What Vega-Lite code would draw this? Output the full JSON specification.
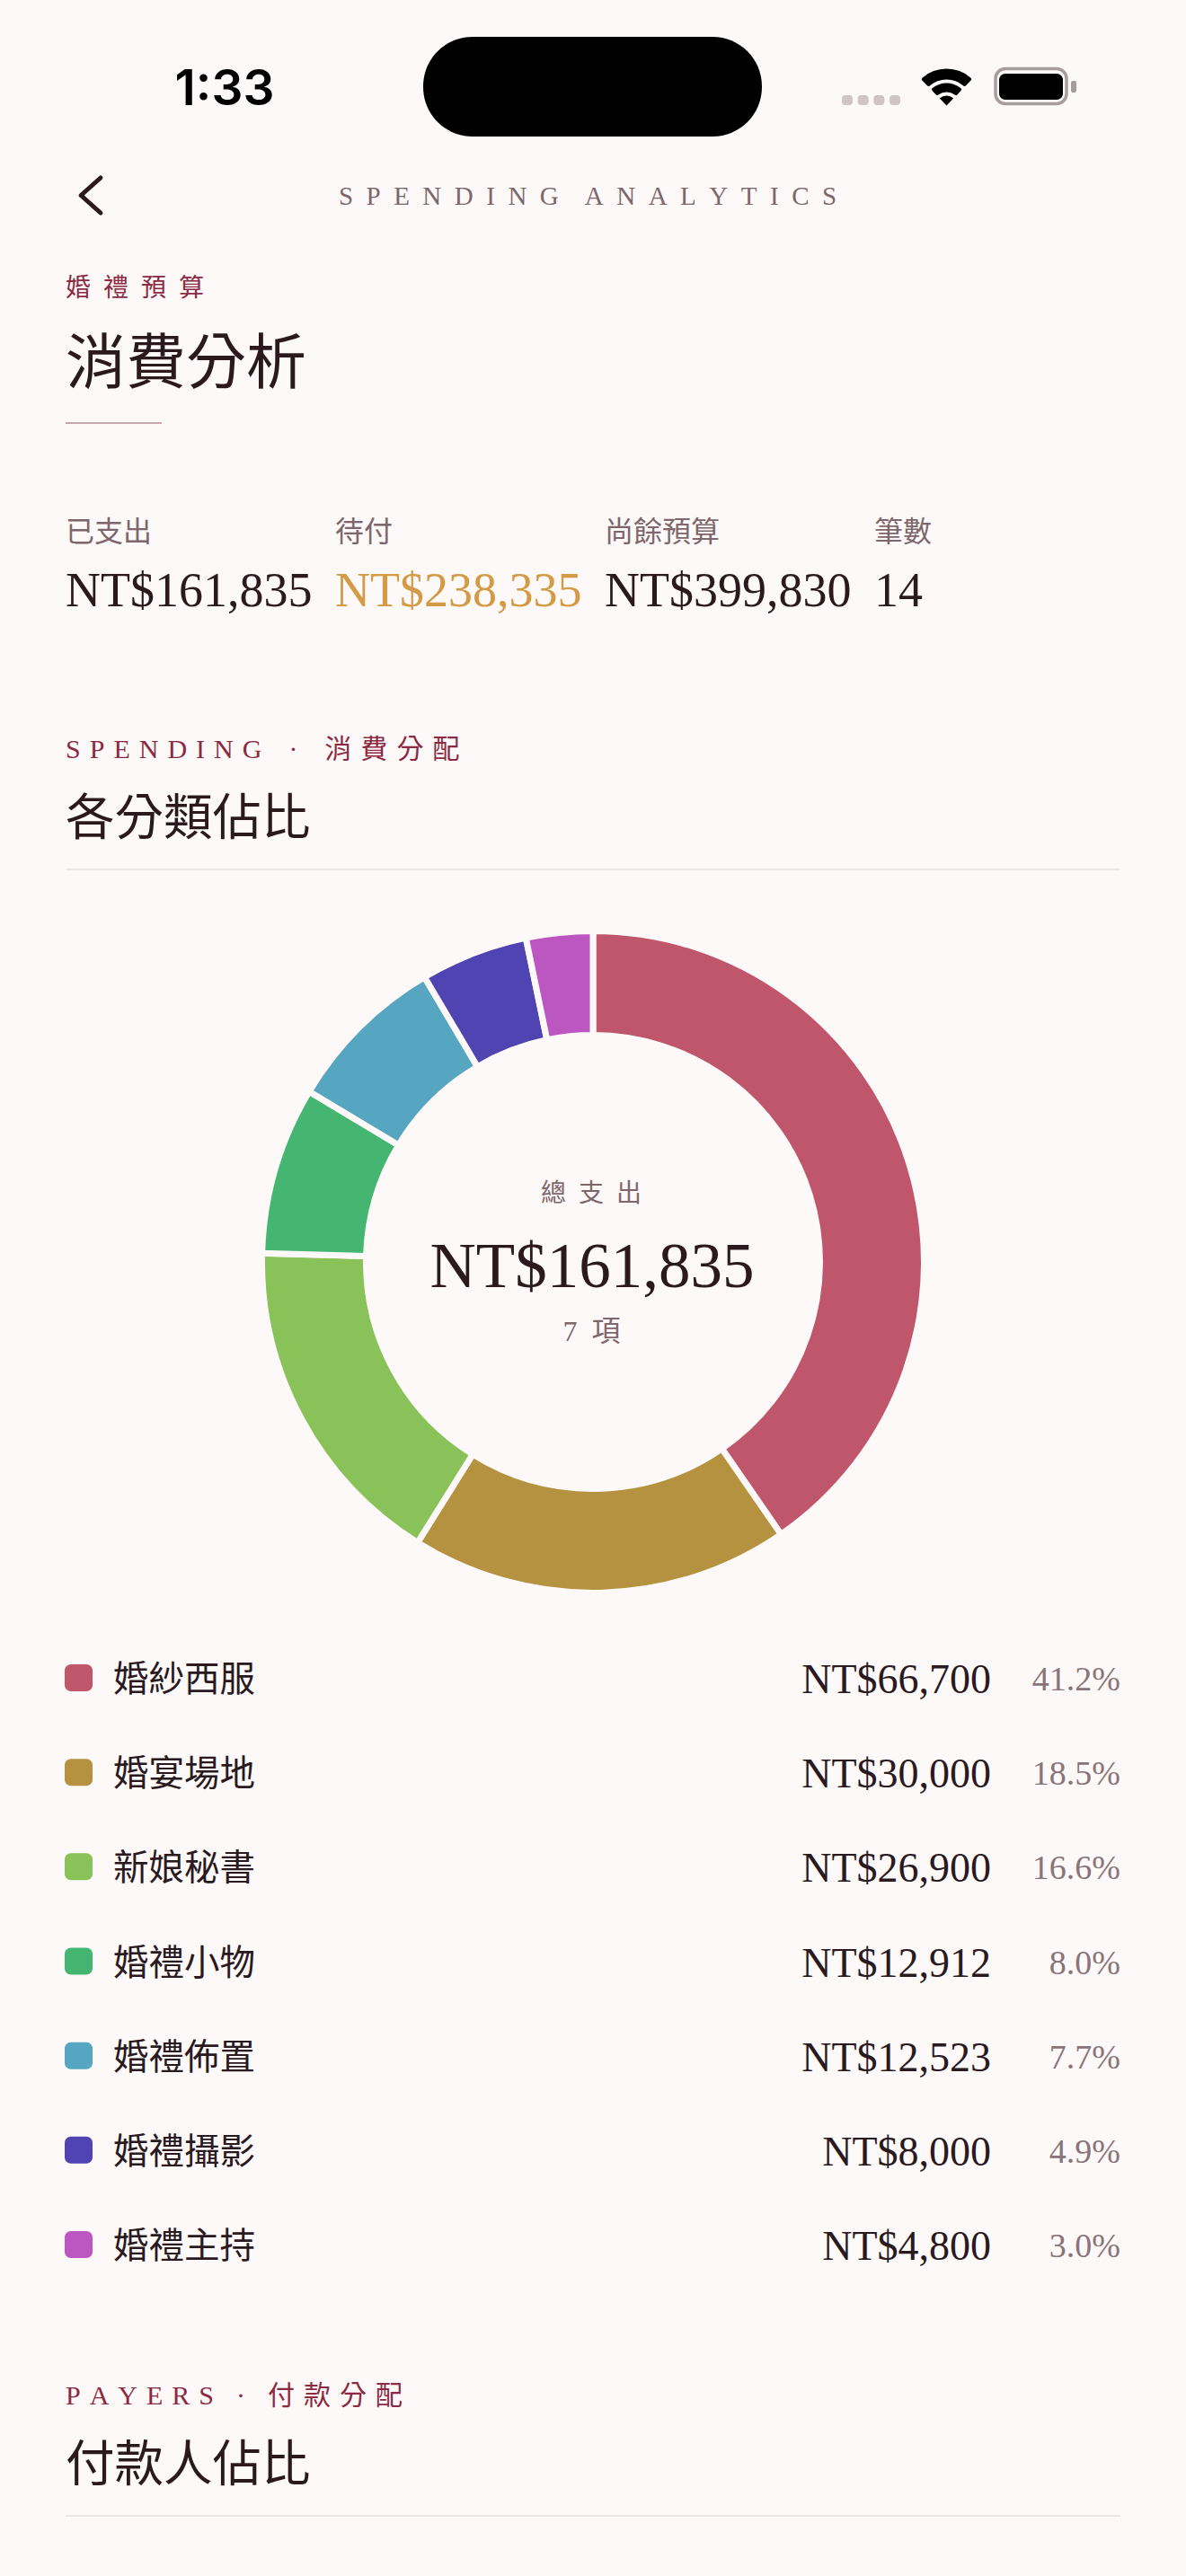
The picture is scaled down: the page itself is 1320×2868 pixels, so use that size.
{
  "$schema": "https://vega.github.io/schema/vega-lite/v6.json",
  "width": 1320,
  "height": 2868,
  "autosize": {"type": "fit", "contains": "padding"},
  "padding": 0,
  "background": "#fdf9f8",
  "datasets": {
    "categories": [
      {"rank": 1, "category": "婚紗西服", "amount": 66700, "share": 0.412, "sweep": 145.4},
      {"rank": 2, "category": "婚宴場地", "amount": 30000, "share": 0.185, "sweep": 66.6},
      {"rank": 3, "category": "新娘秘書", "amount": 26900, "share": 0.166, "sweep": 59.5},
      {"rank": 4, "category": "婚禮小物", "amount": 12912, "share": 0.08, "sweep": 29.5},
      {"rank": 5, "category": "婚禮佈置", "amount": 12523, "share": 0.077, "sweep": 28.4},
      {"rank": 6, "category": "婚禮攝影", "amount": 8000, "share": 0.049, "sweep": 18.9},
      {"rank": 7, "category": "婚禮主持", "amount": 4800, "share": 0.03, "sweep": 11.7}
    ],
    "kpis": [
      {"metric": "已支出", "display": "NT$161,835", "state": "plain"},
      {"metric": "待付", "display": "NT$238,335", "state": "pending"},
      {"metric": "尚餘預算", "display": "NT$399,830", "state": "plain"},
      {"metric": "筆數", "display": "14", "state": "plain"}
    ]
  },
  "layer": [
    {
      "layer": [
        {
          "data": {"values": [{"label": "1:33"}]},
          "mark": {"type": "text", "font": "Inter", "fontWeight": 600, "fontSize": 55, "color": "#000000", "align": "center", "baseline": "alphabetic"},
          "encoding": {
            "text": {"field": "label"},
            "x": {"datum": 25.0, "scale": {"domain": [0, 132], "range": [0, 1320], "zero": false, "nice": false}},
            "y": {"datum": 11.7, "scale": {"domain": [0, 286.8], "range": [0, 2868], "zero": false, "nice": false}}
          }
        },
        {
          "data": {"values": [{"part": "island"}]},
          "mark": {"type": "rect", "color": "#000000", "cornerRadius": 55},
          "encoding": {"x": {"datum": 47.1}, "x2": {"datum": 84.8}, "y": {"datum": 4.1}, "y2": {"datum": 15.2}}
        },
        {
          "data": {"values": [{"part": "wifi"}]},
          "mark": {"type": "arc", "color": "#000000", "theta": -0.77, "theta2": 0.77, "radius": 41, "radius2": 29, "cornerRadius": 2},
          "encoding": {"x": {"datum": 105.35}, "y": {"datum": 11.75}}
        },
        {
          "data": {"values": [{"part": "wifi"}]},
          "mark": {"type": "arc", "color": "#000000", "theta": -0.77, "theta2": 0.77, "radius": 25, "radius2": 15, "cornerRadius": 2},
          "encoding": {"x": {"datum": 105.35}, "y": {"datum": 11.75}}
        },
        {
          "data": {"values": [{"part": "wifi"}]},
          "mark": {"type": "arc", "color": "#000000", "theta": -0.77, "theta2": 0.77, "radius": 11, "radius2": 0},
          "encoding": {"x": {"datum": 105.35}, "y": {"datum": 11.75}}
        },
        {
          "data": {"values": [{"part": "battery"}]},
          "mark": {"type": "rect", "fill": "transparent", "stroke": "#a89c9f", "strokeWidth": 3.5, "cornerRadius": 11},
          "encoding": {"x": {"datum": 110.8}, "x2": {"datum": 118.7}, "y": {"datum": 7.65}, "y2": {"datum": 11.55}}
        },
        {
          "data": {"values": [{"part": "battery"}]},
          "mark": {"type": "rect", "color": "#000000", "cornerRadius": 7},
          "encoding": {"x": {"datum": 111.2}, "x2": {"datum": 118.3}, "y": {"datum": 8.2}, "y2": {"datum": 11.1}}
        },
        {
          "data": {"values": [{"part": "battery"}]},
          "mark": {"type": "rect", "color": "#a89c9f", "cornerRadius": 2},
          "encoding": {"x": {"datum": 119.2}, "x2": {"datum": 119.8}, "y": {"datum": 9.0}, "y2": {"datum": 10.3}}
        },
        {
          "data": {"values": [{"part": "back"}]},
          "mark": {"type": "point", "shape": "M0.56,-1L-0.56,0L0.56,1", "size": 1521, "filled": false, "stroke": "#2a1a1f", "strokeWidth": 5, "strokeCap": "round", "strokeJoin": "round", "opacity": 1},
          "encoding": {"x": {"datum": 10.1}, "y": {"datum": 21.75}}
        },
        {
          "data": {"values": [{"label": "S\u2002P\u2002E\u2002N\u2002D\u2002I\u2002N\u2002G\u2003A\u2002N\u2002A\u2002L\u2002Y\u2002T\u2002I\u2002C\u2002S"}]},
          "mark": {"type": "text", "font": "Liberation Serif", "fontSize": 29, "color": "#7d666c", "align": "center", "baseline": "alphabetic"},
          "encoding": {"text": {"field": "label"}, "x": {"datum": 65.4}, "y": {"datum": 22.8}}
        },
        {
          "data": {"values": [{"label": "婚\u2002禮\u2002預\u2002算"}]},
          "mark": {"type": "text", "font": "Noto Sans CJK TC", "fontSize": 28, "color": "#8b2a42", "align": "left", "baseline": "middle"},
          "encoding": {"text": {"field": "label"}, "x": {"datum": 7.3}, "y": {"datum": 32.2}}
        },
        {
          "data": {"values": [{"label": "消費分析"}]},
          "mark": {"type": "text", "font": "Noto Sans CJK TC", "fontSize": 67, "color": "#2a1a1f", "align": "left", "baseline": "middle"},
          "encoding": {"text": {"field": "label"}, "x": {"datum": 7.3}, "y": {"datum": 40.65}}
        },
        {
          "data": {"values": [{"part": "accent"}]},
          "mark": {"type": "rule", "color": "#b58a96", "strokeWidth": 1.5},
          "encoding": {"x": {"datum": 7.3}, "x2": {"datum": 18.0}, "y": {"datum": 47.1}}
        },
        {
          "data": {"values": [{"label": "S\u2004P\u2004E\u2004N\u2004D\u2004I\u2004N\u2004G\u2002\u2002·\u2002\u2002消\u2004費\u2004分\u2004配"}]},
          "mark": {"type": "text", "font": "Liberation Serif, Noto Sans CJK TC", "fontSize": 30, "color": "#8b2a42", "align": "left", "baseline": "middle"},
          "encoding": {"text": {"field": "label"}, "x": {"datum": 7.3}, "y": {"datum": 83.5}}
        },
        {
          "data": {"values": [{"label": "各分類佔比"}]},
          "mark": {"type": "text", "font": "Noto Sans CJK TC", "fontSize": 54.5, "color": "#2a1a1f", "align": "left", "baseline": "middle"},
          "encoding": {"text": {"field": "label"}, "x": {"datum": 7.3}, "y": {"datum": 91.3}}
        },
        {
          "data": {"values": [{"part": "divider"}]},
          "mark": {"type": "rule", "color": "#e6e1e1", "strokeWidth": 1.5},
          "encoding": {"x": {"datum": 7.3}, "x2": {"datum": 124.7}, "y": {"datum": 96.8}}
        },
        {
          "data": {"values": [{"label": "總\u2002支\u2002出"}]},
          "mark": {"type": "text", "font": "Noto Sans CJK TC", "fontSize": 28, "color": "#7d666c", "align": "center", "baseline": "middle"},
          "encoding": {"text": {"field": "label"}, "x": {"datum": 65.8}, "y": {"datum": 133.0}}
        },
        {
          "data": {"values": [{"label": "NT$161,835"}]},
          "mark": {"type": "text", "font": "Liberation Serif", "fontSize": 71, "color": "#2a1a1f", "align": "center", "baseline": "alphabetic"},
          "encoding": {"text": {"field": "label"}, "x": {"datum": 65.9}, "y": {"datum": 143.3}}
        },
        {
          "data": {"values": [{"label": "7\u2002項"}]},
          "mark": {"type": "text", "font": "Liberation Serif, Noto Sans CJK TC", "fontSize": 32, "color": "#7d666c", "align": "center", "baseline": "middle"},
          "encoding": {"text": {"field": "label"}, "x": {"datum": 65.85}, "y": {"datum": 148.3}}
        },
        {
          "data": {"values": [{"label": "P\u2004A\u2004Y\u2004E\u2004R\u2004S\u2002\u2004·\u2002\u2004付\u2004款\u2004分\u2004配"}]},
          "mark": {"type": "text", "font": "Liberation Serif, Noto Sans CJK TC", "fontSize": 30, "color": "#8b2a42", "align": "left", "baseline": "middle"},
          "encoding": {"text": {"field": "label"}, "x": {"datum": 7.3}, "y": {"datum": 266.8}}
        },
        {
          "data": {"values": [{"label": "付款人佔比"}]},
          "mark": {"type": "text", "font": "Noto Sans CJK TC", "fontSize": 54.5, "color": "#2a1a1f", "align": "left", "baseline": "middle"},
          "encoding": {"text": {"field": "label"}, "x": {"datum": 7.3}, "y": {"datum": 274.6}}
        },
        {
          "data": {"values": [{"part": "divider"}]},
          "mark": {"type": "rule", "color": "#e6e1e1", "strokeWidth": 1.5},
          "encoding": {"x": {"datum": 7.3}, "x2": {"datum": 124.7}, "y": {"datum": 280.1}}
        }
      ]
    },
    {
      "data": {"values": [{"dot": 1}, {"dot": 2}, {"dot": 3}, {"dot": 4}]},
      "mark": {"type": "rect", "width": 12, "height": 11, "cornerRadius": 3.5, "color": "#cfc4c6"},
      "encoding": {
        "x": {"field": "dot", "type": "nominal", "scale": {"type": "point", "domain": [1, 2, 3, 4], "range": [943, 996], "padding": 0}},
        "y": {"datum": 11.15, "scale": {"domain": [0, 286.8], "range": [0, 2868], "zero": false, "nice": false}}
      }
    },
    {
      "data": {"name": "categories"},
      "mark": {"type": "arc", "radius": 368.5, "radius2": 252.5, "stroke": "#fdf9f8", "strokeWidth": 7},
      "encoding": {
        "theta": {"field": "sweep", "type": "quantitative", "stack": true},
        "order": {"field": "rank", "type": "ordinal"},
        "color": {
          "field": "category",
          "type": "nominal",
          "scale": {
            "domain": ["婚紗西服", "婚宴場地", "新娘秘書", "婚禮小物", "婚禮佈置", "婚禮攝影", "婚禮主持"],
            "range": ["#c0566c", "#b59240", "#8ac25a", "#44b672", "#56a5c1", "#5044b3", "#bc56c0"]
          }
        },
        "x": {"datum": 66.0, "scale": {"domain": [0, 132], "range": [0, 1320], "zero": false, "nice": false}},
        "y": {"datum": 140.5, "scale": {"domain": [0, 286.8], "range": [0, 2868], "zero": false, "nice": false}}
      }
    },
    {
      "data": {"name": "kpis"},
      "encoding": {
        "x": {"field": "metric", "type": "nominal", "sort": null, "scale": {"type": "point", "domain": ["已支出", "待付", "尚餘預算", "筆數"], "range": [73, 973], "padding": 0}}
      },
      "layer": [
        {
          "mark": {"type": "text", "font": "Noto Sans CJK TC", "fontSize": 32, "color": "#7d666c", "align": "left", "baseline": "middle"},
          "encoding": {
            "text": {"field": "metric"},
            "y": {"datum": 59.3, "scale": {"domain": [0, 286.8], "range": [0, 2868], "zero": false, "nice": false}}
          }
        },
        {
          "mark": {"type": "text", "font": "Liberation Serif", "fontSize": 54, "align": "left", "baseline": "alphabetic"},
          "encoding": {
            "text": {"field": "display"},
            "y": {"datum": 67.5},
            "color": {"field": "state", "type": "nominal", "scale": {"domain": ["plain", "pending"], "range": ["#2a1a1f", "#d49a45"]}}
          }
        }
      ]
    },
    {
      "data": {"name": "categories"},
      "encoding": {
        "y": {"field": "category", "type": "nominal", "sort": null, "scale": {"type": "point", "domain": ["婚紗西服", "婚宴場地", "新娘秘書", "婚禮小物", "婚禮佈置", "婚禮攝影", "婚禮主持"], "range": [1868, 2499], "padding": 0}}
      },
      "layer": [
        {
          "mark": {"type": "rect", "height": 30, "cornerRadius": 7},
          "encoding": {
            "x": {"datum": 7.2, "scale": {"domain": [0, 132], "range": [0, 1320], "zero": false, "nice": false}},
            "x2": {"datum": 10.3},
            "color": {
              "field": "category",
              "type": "nominal",
              "scale": {
                "domain": ["婚紗西服", "婚宴場地", "新娘秘書", "婚禮小物", "婚禮佈置", "婚禮攝影", "婚禮主持"],
                "range": ["#c0566c", "#b59240", "#8ac25a", "#44b672", "#56a5c1", "#5044b3", "#bc56c0"]
              }
            }
          }
        },
        {
          "mark": {"type": "text", "font": "Noto Sans CJK TC", "fontSize": 39.5, "color": "#2a1a1f", "align": "left", "baseline": "middle", "dy": 3},
          "encoding": {"text": {"field": "category"}, "x": {"datum": 12.6}}
        },
        {
          "mark": {"type": "text", "font": "Liberation Serif", "fontSize": 46, "color": "#2a1a1f", "align": "right", "baseline": "middle", "dy": 3},
          "encoding": {"text": {"field": "amount", "type": "quantitative", "format": "$,.0f"}, "x": {"datum": 110.3}}
        },
        {
          "mark": {"type": "text", "font": "Liberation Serif", "fontSize": 38, "color": "#8a7479", "align": "right", "baseline": "middle", "dy": 3},
          "encoding": {"text": {"field": "share", "type": "quantitative", "format": ".1%"}, "x": {"datum": 124.7}}
        }
      ]
    }
  ],
  "resolve": {"scale": {"x": "independent", "y": "independent", "color": "independent"}},
  "config": {
    "view": {"stroke": null},
    "axis": {"disable": true},
    "legend": {"disable": true},
    "locale": {"number": {"decimal": ".", "thousands": ",", "grouping": [3], "currency": ["NT$", ""]}}
  }
}
